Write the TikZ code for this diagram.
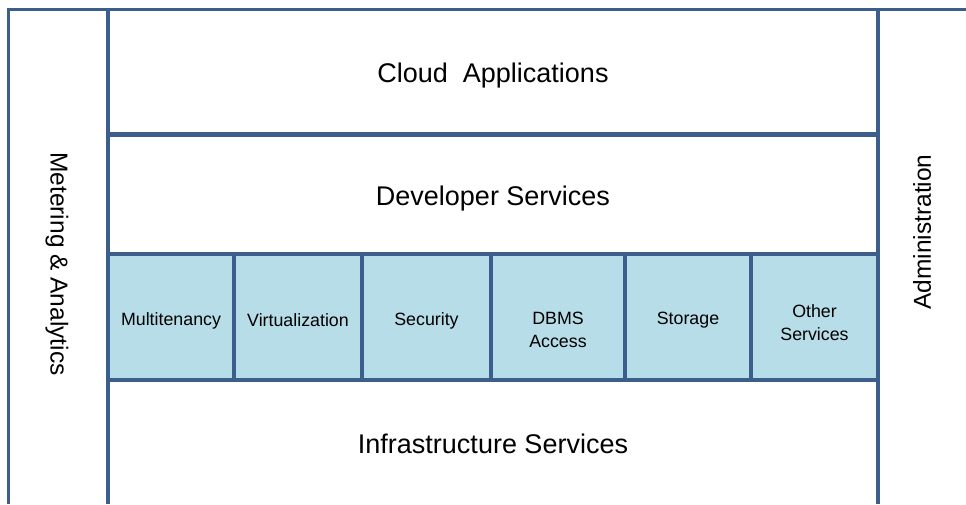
\documentclass[tikz,border=0pt]{standalone}
\usepackage{fontspec}
\setmainfont{Liberation Sans}
\definecolor{lineblue}{HTML}{3B5E8C}
\definecolor{cellblue}{HTML}{B7DDE8}
\tikzset{
  frame/.style={draw=lineblue, line width=3pt},
  divider/.style={draw=lineblue, line width=5pt},
  cellline/.style={draw=lineblue, line width=4pt},
  bigtext/.style={font=\fontsize{27}{32}\selectfont, inner sep=0pt, anchor=base},
  sidetext/.style={font=\fontsize{24.5}{29}\selectfont, inner sep=0pt},
  celltext/.style={font=\fontsize{17.8}{23}\selectfont, inner sep=0pt, align=center},
}
\begin{document}
\begin{tikzpicture}[x=1pt, y=-1pt]
\useasboundingbox (0,0) rectangle (966,504);
% blue service row
\fill[cellblue] (108,254) rectangle (878,380);
\draw[cellline] (108,254) -- (878,254);
\draw[cellline] (108,380) -- (878,380);
\foreach \x in {234,362,491,625,751} {
  \draw[cellline] (\x,254) -- (\x,380);
}
% frame lines
\draw[frame] (8.5,504) -- (8.5,9) -- (966,9);
\draw[frame, line width=3.5pt] (108,9) -- (108,504);
\draw[frame, line width=3.5pt] (878,9) -- (878,504);
\draw[divider] (108,134.5) -- (878,134.5);
% texts
\node[bigtext] (cloud) at (493,82) {Cloud\ \ Applications};
\node[bigtext] (dev) at (493,205) {Developer Services};
\node[bigtext] (infra) at (493,453) {Infrastructure Services};
\node[sidetext, rotate=-90] (meter) at (57,264) {Metering \& Analytics};
\node[sidetext, rotate=90] (admin) at (922,232) {Administration};
\node[celltext] (multi) at (171,320.5) {Multitenancy};
\node[celltext] (virt) at (298,320.5) {Virtualization};
\node[celltext] (sec) at (426.5,320.5) {Security};
\node[celltext] (dbms) at (558,330) {DBMS\\Access};
\node[celltext] (stor) at (688,320.5) {Storage};
\node[celltext] (other) at (814.5,323) {Other\\Services};
\end{tikzpicture}
\end{document}
